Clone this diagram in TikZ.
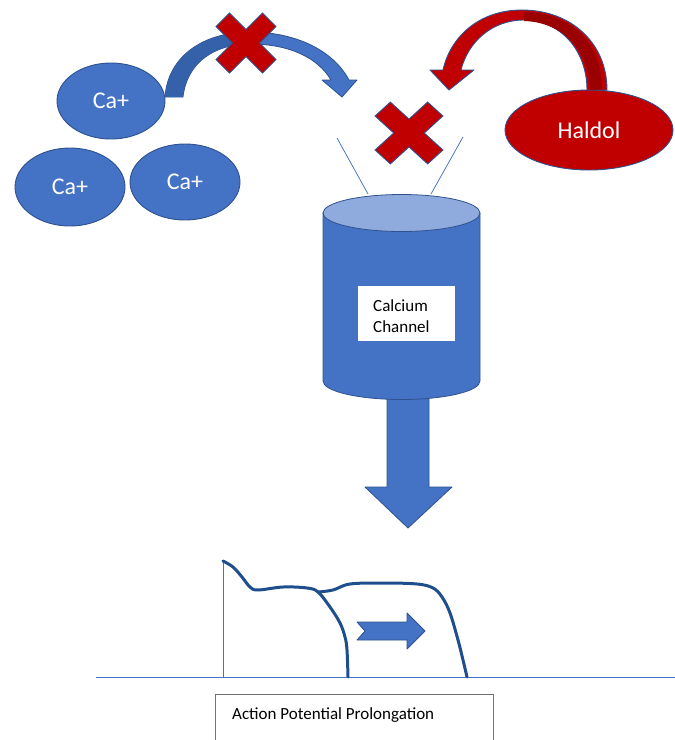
\documentclass[tikz,border=0pt]{standalone}
\usepackage{fontspec}
\setmainfont{Carlito}
\usetikzlibrary{shapes.geometric}
\definecolor{cblue}{HTML}{4472C4}
\definecolor{cborder}{HTML}{2F528F}
\definecolor{ctop}{HTML}{8FAADC}
\definecolor{cdkblue}{HTML}{3560AA}
\definecolor{cred}{HTML}{C00000}
\definecolor{cdkred}{HTML}{9A0000}
\definecolor{cnavy}{HTML}{1F4E8C}
\tikzset{
  ion/.style={ellipse, draw=cborder, line width=0.9pt, fill=cblue, text=white, inner sep=0pt, font=\fontsize{24}{28}\selectfont},
  drug/.style={ellipse, draw=cborder, line width=0.9pt, fill=cred, text=white, inner sep=0pt, font=\fontsize{24}{28}\selectfont},
  bluefill/.style={draw=cborder, line width=0.8pt, fill=cblue, line join=round},
  xstyle/.style={draw=cborder, line width=0.9pt, fill=cred, line join=miter},
  thinline/.style={draw=cblue, line width=0.75pt},
  apcurve/.style={draw=cnavy, line width=3pt, line cap=round, line join=round},
  pics/redx/.style={code={
    \draw[xstyle] (0,13.5) -- (16.5,30) -- (30,16.5) -- (13.5,0) -- (30,-16.5) -- (16.5,-30) -- (0,-13.5) -- (-16.5,-30) -- (-30,-16.5) -- (-13.5,0) -- (-30,16.5) -- (-16.5,30) -- cycle;
  }}
}
\begin{document}
\begin{tikzpicture}[x=1pt,y=-1pt]
\useasboundingbox (0,0) rectangle (675,740);
\clip (0,0) rectangle (675,740);
\fill[white] (0,0) rectangle (675,740);

% Ca+ ions
\node[ion, minimum width=108pt, minimum height=76pt] (ca1) at (111,101) {Ca+};
\node[ion, minimum width=110pt, minimum height=78pt] (ca2) at (70,187) {Ca+};
\node[ion, minimum width=110pt, minimum height=76pt] (ca3) at (185,182) {Ca+};

% blue curved arrow
\path[bluefill] (165,97) .. controls (168,55) and (205,32) .. (250,32) .. controls (295,32) and (333,50) .. (349,80) -- (357,80) -- (342,97) -- (322,80) -- (331,80) .. controls (318,58) and (290,44) .. (250,44) .. controls (215,44) and (187,62) .. (183,97) -- cycle;
\path[fill=cdkblue] (165.5,96.5) .. controls (168.5,55) and (205,32.5) .. (250,32.5) -- (250,43.5) .. controls (215,43.5) and (187,62) .. (182.5,96.5) -- cycle;

% Haldol
\node[drug, minimum width=168pt, minimum height=80pt] (haldol) at (589,130) {Haldol};

% red curved arrow
\path[draw=cborder, line width=0.9pt, fill=cred, line join=round] (607,90) .. controls (607,42) and (570,10) .. (522,10) .. controls (478,10) and (450,38) .. (443,70) -- (430,70) -- (449,90) -- (474,70) -- (461,70) .. controls (468,42) and (492,20) .. (524,20) .. controls (560,20) and (587,50) .. (587,90) -- cycle;
\path[fill=cdkred] (524,12) .. controls (570,12) and (602,42) .. (602,89.5) -- (590,89.5) .. controls (590,50) and (562,22) .. (524,21) -- cycle;

% red X marks
\pic at (246,43) {redx};
\pic[xscale=1.13, yscale=1.03] at (409,133) {redx};

% thin lines to channel top
\draw[thinline] (337,138) -- (368,194);
\draw[thinline] (463,137) -- (431,194);

% down arrow
\path[bluefill] (387,395) -- (387,487) -- (365,487) -- (408,528) -- (452,487) -- (429,487) -- (429,395) -- cycle;

% calcium channel cylinder
\path[bluefill] (323,213) -- (323,381) arc[start angle=180, end angle=0, x radius=78.5, y radius=18.5] -- (480,213) -- cycle;
\path[draw=cborder, line width=0.8pt, fill=ctop] (401.5,213) ellipse[x radius=78.5, y radius=18.5];
\node[fill=white, minimum width=97pt, minimum height=55pt, inner sep=0pt] (chbox) at (406.5,313.5) {};
\node[anchor=west, align=left, inner sep=0pt, font=\fontsize{17}{21}\selectfont] (chtext) at (373,316.5) {Calcium\\Channel};

% action potential graph
\draw[thinline] (96,677) -- (675,677);
\draw[thinline] (223,561) -- (223,677);
\draw[apcurve] plot[smooth, tension=0.6] coordinates {(223,561) (233,567) (242,577) (250,587) (258,590) (283,587) (307,588) (318,592) (330,607) (340,623) (345,637) (347,650) (348,677)};
\draw[apcurve] plot[smooth, tension=0.6] coordinates {(318,592) (333,590) (350,584) (383,583) (417,584) (433,588) (442,597) (450,613) (458,640) (463,660) (467,677)};
\path[bluefill] (357,622) -- (407,622) -- (407,613) -- (425,631) -- (407,649) -- (407,640) -- (357,640) -- (365,631) -- cycle;

% caption box
\node[draw=black!55, line width=0.8pt, anchor=north west, minimum width=278pt, minimum height=60pt, inner sep=0pt] (apbox) at (215,694) {};
\node[anchor=west, inner sep=0pt, font=\fontsize{17}{21}\selectfont] (aptext) at (232,715) {Action Potential Prolongation};
\end{tikzpicture}
\end{document}
